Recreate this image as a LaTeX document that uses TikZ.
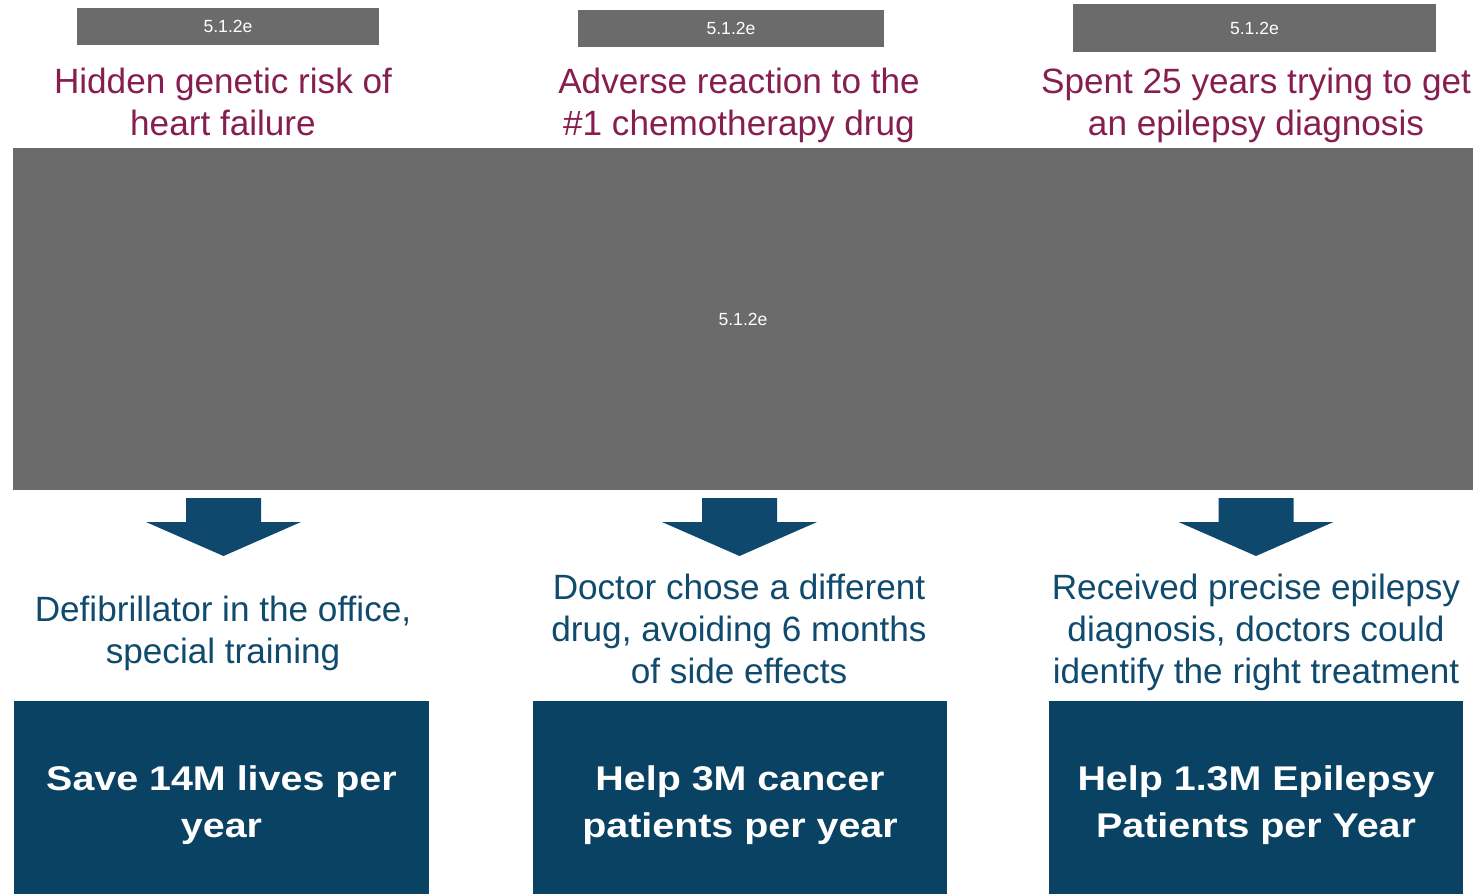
\documentclass[tikz,border=0pt]{standalone}
\usepackage{fontspec}
\setmainfont{Liberation Sans}
\newfontfamily\grasfont[FakeStretch=1.15]{Liberation Sans}
\usepackage{xcolor}
\usetikzlibrary{positioning}
\definecolor{grisfond}{RGB}{107,107,107}
\definecolor{rougetitre}{RGB}{135,30,80}
\definecolor{bleutexte}{RGB}{16,75,110}
\definecolor{bleuboite}{RGB}{10,66,99}
\definecolor{bleufleche}{RGB}{14,72,108}

\begin{document}
\begin{tikzpicture}[
  petit/.style={fill=grisfond, text=white, inner sep=0pt, font=\fontsize{10}{12}\selectfont},
  titre/.style={text=rougetitre, align=center, anchor=north, inner sep=0pt, font=\fontsize{20}{24}\selectfont},
  effet/.style={text=bleutexte, align=center, anchor=north, inner sep=0pt, font=\fontsize{20}{24}\selectfont},
  boite/.style={fill=bleuboite, inner sep=0pt, minimum width=8.29cm, minimum height=3.86cm},
  gras/.style={text=white, align=center, anchor=north, inner sep=0pt, font=\grasfont\bfseries\fontsize{19.5}{26.7}\selectfont},
  fleche/.style={fill=bleufleche}
]
\useasboundingbox (0,0) rectangle (29.54,-17.88);
% bandeaux gris
\node[petit, minimum width=6.04cm, minimum height=0.74cm] (p1) at (4.56,-0.53) {5.1.2e};
\node[petit, minimum width=6.12cm, minimum height=0.74cm] (p2) at (14.62,-0.57) {5.1.2e};
\node[petit, minimum width=7.26cm, minimum height=0.96cm] (p3) at (25.09,-0.56) {5.1.2e};
% titres
\node[titre] (t1) at (4.46,-1.36) {Hidden genetic risk of\\heart failure};
\node[titre] (t2) at (14.78,-1.36) {Adverse reaction to the\\\#1 chemotherapy drug};
\node[titre] (t3) at (25.12,-1.36) {Spent 25 years trying to get\\an epilepsy diagnosis};
% grand cadre
\node[petit, minimum width=29.2cm, minimum height=6.84cm] (cadre) at (14.86,-6.38) {5.1.2e};
% fleches
\coordinate (f1) at (4.47,-9.96);
\coordinate (f2) at (14.79,-9.96);
\coordinate (f3) at (25.12,-9.96);
\fill[fleche] (f1) ++(-0.75,0) -- ++(1.5,0) -- ++(0,-0.48) -- ++(0.8,0) -- ++(-1.55,-0.68) -- ++(-1.55,0.68) -- ++(0.8,0) -- cycle;
\fill[fleche] (f2) ++(-0.75,0) -- ++(1.5,0) -- ++(0,-0.48) -- ++(0.8,0) -- ++(-1.55,-0.68) -- ++(-1.55,0.68) -- ++(0.8,0) -- cycle;
\fill[fleche] (f3) ++(-0.75,0) -- ++(1.5,0) -- ++(0,-0.48) -- ++(0.8,0) -- ++(-1.55,-0.68) -- ++(-1.55,0.68) -- ++(0.8,0) -- cycle;
% consequences
\node[effet] (e1) at (4.46,-11.91) {Defibrillator in the office,\\special training};
\node[effet] (e2) at (14.78,-11.47) {Doctor chose a different\\drug, avoiding 6 months\\of side effects};
\node[effet] (e3) at (25.12,-11.47) {Received precise epilepsy\\diagnosis, doctors could\\identify the right treatment};
% boites du bas
\node[boite] (b1) at (4.43,-15.95) {};
\node[boite] (b2) at (14.80,-15.95) {};
\node[boite] (b3) at (25.12,-15.95) {};
\node[gras] (g1) at (4.43,-15.30) {Save 14M lives per\\year};
\node[gras] (g2) at (14.80,-15.30) {Help 3M cancer\\patients per year};
\node[gras] (g3) at (25.12,-15.30) {Help 1.3M Epilepsy\\Patients per Year};
\end{tikzpicture}
\end{document}
